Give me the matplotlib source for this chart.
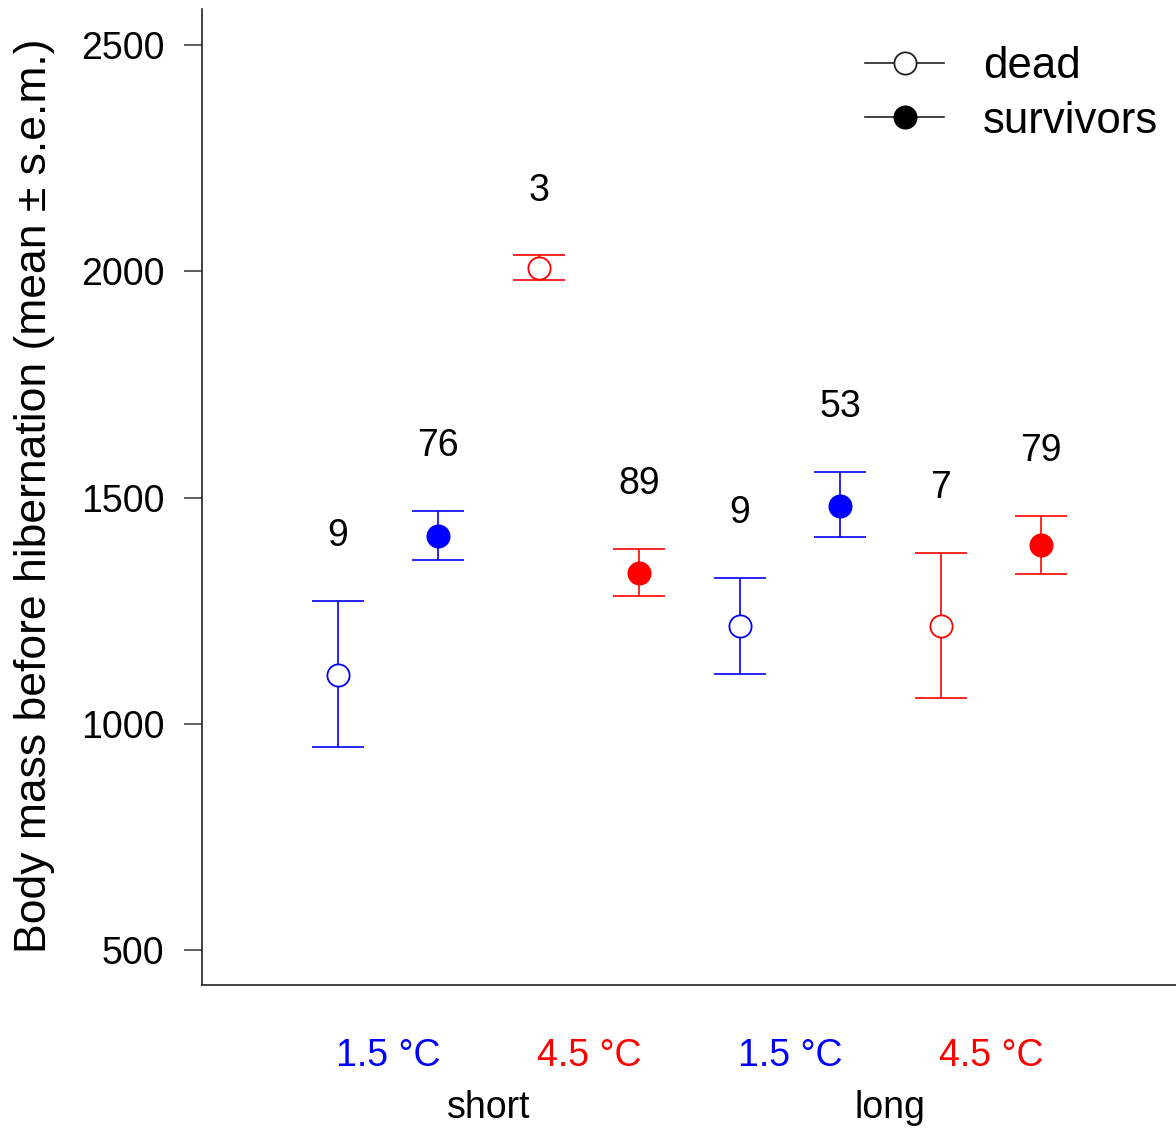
import matplotlib
matplotlib.use("Agg")
import matplotlib.pyplot as plt
from matplotlib.lines import Line2D
import matplotlib.transforms as mtransforms

plt.rcParams['font.family'] = ['Liberation Sans', 'DejaVu Sans']

# data
positions = [1, 2, 3, 4, 5, 6, 7, 8]
means = [1108, 1416, 2007, 1334, 1217, 1482, 1217, 1396]
upper = [1272, 1471, 2035, 1387, 1323, 1557, 1378, 1460]
lower = [949, 1363, 1980, 1283, 1110, 1412, 1057, 1332]
ns = ["9", "76", "3", "89", "9", "53", "7", "79"]
status = ["dead", "survivors", "dead", "survivors", "dead", "survivors", "dead", "survivors"]
temps = ["1.5 °C", "1.5 °C", "4.5 °C", "4.5 °C", "1.5 °C", "1.5 °C", "4.5 °C", "4.5 °C"]
temp_labels = ["1.5 °C", "4.5 °C", "1.5 °C", "4.5 °C"]
temp_label_pos = [1.5, 3.5, 5.5, 7.5]
season_labels = ["short", "long"]
season_label_pos = [2.5, 6.5]
yticks = [500, 1000, 1500, 2000, 2500]

temp_colors = {"1.5 °C": "#0000ff", "4.5 °C": "#ff0000"}

fig = plt.figure(figsize=(11.76, 11.28), dpi=100)
ax = fig.add_axes([202/1176, 143/1128, 1 - 202/1176, (985-9)/1128])

for x, m, u, l, st, t in zip(positions, means, upper, lower, status, temps):
    c = temp_colors[t]
    fc = c if st == "survivors" else "white"
    ax.errorbar([x], [m], yerr=[[m - l], [u - m]], fmt='none', ecolor=c,
                elinewidth=1.2, capsize=19, capthick=1.2, zorder=2)
    ax.plot([x], [m], 'o', ms=16, mfc=fc, mec=c, mew=1.3, zorder=3)

for x, u, n in zip(positions, upper, ns):
    ax.text(x, u + 143, n, ha='center', va='center', fontsize=27, color='black')

ax.set_xlim(-0.354, 9.344)
ax.set_ylim(422.7, 2579.6)
ax.set_yticks(yticks)
ax.set_yticklabels([str(v) for v in yticks], fontsize=27)
ax.tick_params(axis='y', length=13, width=1.1, pad=14, color='#333333')
ax.set_xticks([])
for s in ['top', 'right']:
    ax.spines[s].set_visible(False)
for s in ['left', 'bottom']:
    ax.spines[s].set_linewidth(1.2)
    ax.spines[s].set_color('#222222')

ax.set_ylabel("Body mass before hibernation (mean ± s.e.m.)", fontsize=32)
ax.yaxis.set_label_coords((55 - 202)/974, (985 - 496)/976)

trans = mtransforms.blended_transform_factory(ax.transData, ax.transAxes)
for x, lab in zip(temp_label_pos, temp_labels):
    ax.text(x, (985-1056)/976, lab, transform=trans, ha='center', va='center',
            fontsize=27, color=temp_colors[lab])
for x, lab in zip(season_label_pos, season_labels):
    ax.text(x, (985-1108)/976, lab, transform=trans, ha='center', va='center',
            fontsize=27, color='black')

handles = [
    Line2D([], [], color='#222222', lw=1.2, marker='o', ms=16, mfc='white', mec='#222222', mew=1.3),
    Line2D([], [], color='#222222', lw=1.2, marker='o', ms=16, mfc='black', mec='black', mew=1.3),
]
leg = ax.legend(handles, ["dead", "survivors"], loc='upper right', frameon=False,
                fontsize=31.5, handlelength=1.8, handletextpad=0.9, labelspacing=0.3,
                bbox_to_anchor=(1.0, 1.0 - 20/976), borderaxespad=0.0)

fig.savefig("out.png", dpi=100)
